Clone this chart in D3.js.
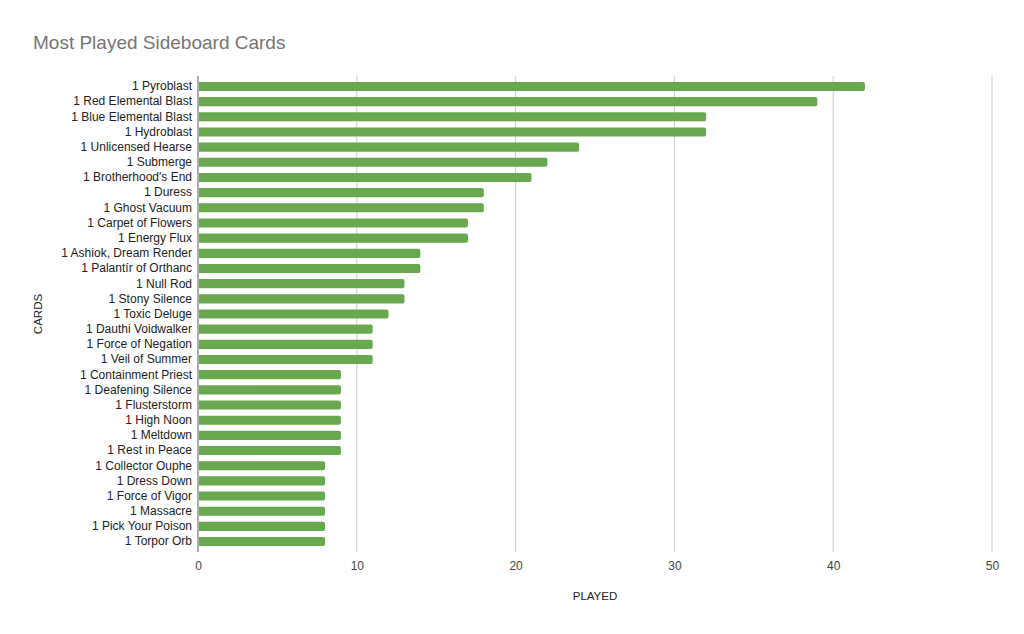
<!DOCTYPE html>
<html>
<head>
<meta charset="utf-8">
<script src="https://cdn.jsdelivr.net/npm/d3@7"></script>
<style>
  body { margin: 0; background: #fff; }
  svg text { font-family: Arial, "Liberation Sans", sans-serif; }
</style>
</head>
<body>
<div id="chart"></div>
<script>
// data
var cards = ["1 Pyroblast", "1 Red Elemental Blast", "1 Blue Elemental Blast", "1 Hydroblast",
  "1 Unlicensed Hearse", "1 Submerge", "1 Brotherhood's End", "1 Duress", "1 Ghost Vacuum",
  "1 Carpet of Flowers", "1 Energy Flux", "1 Ashiok, Dream Render", "1 Palantír of Orthanc",
  "1 Null Rod", "1 Stony Silence", "1 Toxic Deluge", "1 Dauthi Voidwalker", "1 Force of Negation",
  "1 Veil of Summer", "1 Containment Priest", "1 Deafening Silence", "1 Flusterstorm",
  "1 High Noon", "1 Meltdown", "1 Rest in Peace", "1 Collector Ouphe", "1 Dress Down",
  "1 Force of Vigor", "1 Massacre", "1 Pick Your Poison", "1 Torpor Orb"];
var played = [42, 39, 32, 32, 24, 22, 21, 18, 18, 17, 17, 14, 14, 13, 13, 12, 11, 11, 11,
  9, 9, 9, 9, 9, 9, 8, 8, 8, 8, 8, 8];
var xTicks = [0, 10, 20, 30, 40, 50];

var width = 1024, height = 634;
var margin = {top: 76, right: 32, bottom: 82, left: 198};

var svg = d3.select("#chart").append("svg")
    .attr("width", width)
    .attr("height", height);

var x = d3.scaleLinear()
    .domain([0, 50])
    .range([margin.left, width - margin.right]);

var y = d3.scaleBand()
    .domain(cards)
    .range([margin.top, height - margin.bottom])
    .paddingInner(0.4)
    .paddingOuter(0.39);

// gridlines
svg.append("g")
    .selectAll("line")
    .data(xTicks.slice(1))
    .enter()
    .append("line")
    .attr("x1", d => x(d))
    .attr("x2", d => x(d))
    .attr("y1", margin.top)
    .attr("y2", height - margin.bottom)
    .attr("stroke", "#cccccc")
    .attr("stroke-width", 1);

// bars
svg.append("g")
    .selectAll("path")
    .data(cards)
    .enter()
    .append("path")
    .attr("fill", "#6aa84f")
    .attr("d", function(d, i) {
        var x0 = x(0) + 1, x1 = x(played[i]), y0 = y(d), h = y.bandwidth(), r = 2;
        return "M" + x0 + "," + y0 +
            "H" + (x1 - r) +
            "Q" + x1 + "," + y0 + " " + x1 + "," + (y0 + r) +
            "V" + (y0 + h - r) +
            "Q" + x1 + "," + (y0 + h) + " " + (x1 - r) + "," + (y0 + h) +
            "H" + x0 + "Z";
    });

// zero baseline
svg.append("line")
    .attr("x1", x(0))
    .attr("x2", x(0))
    .attr("y1", margin.top)
    .attr("y2", height - margin.bottom)
    .attr("stroke", "#777777")
    .attr("stroke-width", 1.2);

// y axis labels
var yAxis = svg.append("g")
    .attr("transform", "translate(" + (x(0) - 6) + ",0)")
    .call(d3.axisLeft(y).tickSize(0).tickPadding(0));
yAxis.select(".domain").remove();
yAxis.selectAll("text")
    .attr("font-size", 12)
    .attr("fill", "#222222");

// x axis labels
var xAxis = svg.append("g")
    .attr("transform", "translate(0," + (height - margin.bottom) + ")")
    .call(d3.axisBottom(x).tickValues(xTicks).tickSize(0).tickPadding(9));
xAxis.select(".domain").remove();
xAxis.selectAll("text")
    .attr("font-size", 12)
    .attr("fill", "#444444");

// title
svg.append("text")
    .attr("x", 33)
    .attr("y", 49)
    .attr("font-size", 19)
    .attr("fill", "#757575")
    .text("Most Played Sideboard Cards");

// axis titles
svg.append("text")
    .attr("x", x(25))
    .attr("y", 600)
    .attr("text-anchor", "middle")
    .attr("font-size", 11.5)
    .attr("fill", "#222222")
    .text("PLAYED");

svg.append("text")
    .attr("transform", "translate(42," + ((margin.top + height - margin.bottom) / 2) + ") rotate(-90)")
    .attr("text-anchor", "middle")
    .attr("font-size", 11.5)
    .attr("fill", "#222222")
    .text("CARDS");
</script>
</body>
</html>
